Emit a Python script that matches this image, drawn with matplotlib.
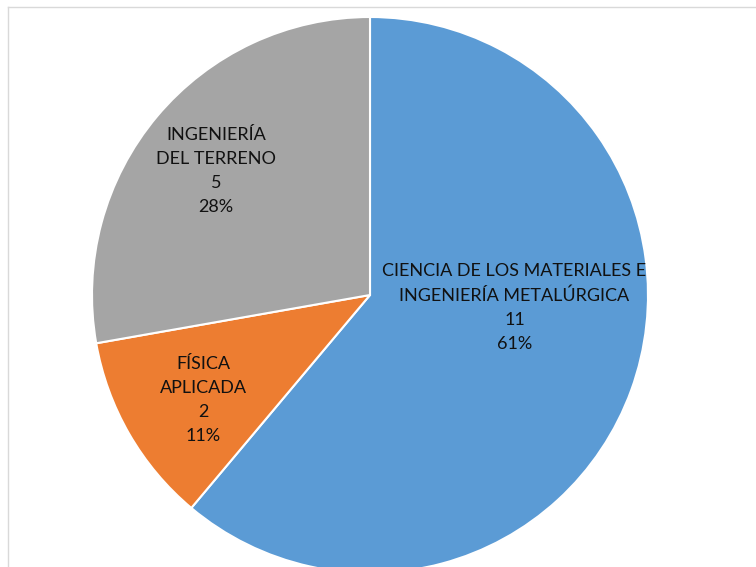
import matplotlib
matplotlib.use("Agg")
import matplotlib.pyplot as plt
from matplotlib.lines import Line2D

# datos del gráfico
categorias = ["CIENCIA DE LOS MATERIALES E\nINGENIERÍA METALÚRGICA", "FÍSICA\nAPLICADA", "INGENIERÍA\nDEL TERRENO"]
valores = [11, 2, 5]
colores = ["#5B9BD5", "#ED7D31", "#A5A5A5"]

# posición de cada etiqueta (en radios, respecto al centro)
pos_etiquetas = [(0.52, -0.045), (-0.60, -0.378), (-0.554, 0.446)]

plt.rcParams["font.family"] = ["Lato", "DejaVu Sans"]

W, H = 756, 567
fig = plt.figure(figsize=(W / 100, H / 100), dpi=100)

# centro y radio del pastel en píxeles
cx, cy, r = 370, 295, 278
ax = fig.add_axes([(cx - r) / W, (H - cy - r) / H, 2 * r / W, 2 * r / H])

ax.pie(
    valores,
    colors=colores,
    startangle=90,
    counterclock=False,
    radius=1,
    wedgeprops=dict(edgecolor="white", linewidth=1.5),
)
ax.set_xlim(-1, 1)
ax.set_ylim(-1, 1)
ax.set_aspect("equal")
ax.axis("off")

total = sum(valores)
for cat, val, (x, y) in zip(categorias, valores, pos_etiquetas):
    pct = round(val / total * 100)
    ax.text(x, y, f"{cat}\n{val}\n{pct}%", ha="center", va="center",
            fontsize=13, color="#111111", linespacing=1.6)

# marco gris claro del área del gráfico
fig.add_artist(Line2D([7.5 / W, 1], [1 - 6.5 / H, 1 - 6.5 / H], color="#D9D9D9", lw=1))
fig.add_artist(Line2D([7.5 / W, 7.5 / W], [0, 1 - 6.5 / H], color="#D9D9D9", lw=1))

fig.savefig("out.png", dpi=100)
